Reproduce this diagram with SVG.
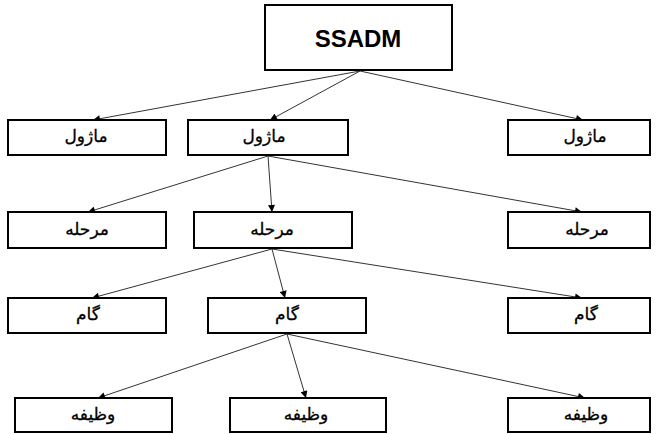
<svg xmlns="http://www.w3.org/2000/svg" width="659" height="434" viewBox="0 0 659 434">
  <style>
    .box { fill: #ffffff; stroke: #000000; stroke-width: 2; }
    .lbl { font-family: "DejaVu Sans", "Noto Sans", sans-serif; font-size: 17px; fill: #000000; stroke: #000000; stroke-width: 0.3; text-anchor: middle; dominant-baseline: central; }
    .title { font-family: "Liberation Sans", Arial, sans-serif; font-size: 24px; font-weight: bold; fill: #000000; text-anchor: middle; dominant-baseline: central; }
    .edge { stroke: #333333; stroke-width: 1; fill: none; marker-end: url(#arrow); }
  </style>
  <defs>
    <marker id="arrow" viewBox="0 0 10 10" refX="10" refY="5" markerWidth="8" markerHeight="7" markerUnits="userSpaceOnUse" orient="auto">
      <path d="M0,0 L10,5 L0,10 z" fill="#000000"/>
    </marker>
  </defs>
  <rect width="659" height="434" fill="#ffffff"/>

  <!-- connectors -->
  <g id="connectors">
    <line class="edge" x1="360" y1="71" x2="93" y2="120"/>
    <line class="edge" x1="360" y1="71" x2="270" y2="120"/>
    <line class="edge" x1="360" y1="71" x2="583" y2="120"/>
    <line class="edge" x1="268" y1="156" x2="88" y2="212"/>
    <line class="edge" x1="268" y1="156" x2="272" y2="212"/>
    <line class="edge" x1="268" y1="156" x2="582" y2="212"/>
    <line class="edge" x1="272" y1="249" x2="92" y2="298"/>
    <line class="edge" x1="272" y1="249" x2="285" y2="298"/>
    <line class="edge" x1="272" y1="249" x2="582" y2="298"/>
    <line class="edge" x1="287" y1="334" x2="98" y2="398"/>
    <line class="edge" x1="287" y1="334" x2="306" y2="398"/>
    <line class="edge" x1="287" y1="334" x2="585" y2="398"/>
  </g>

  <!-- root -->
  <g id="ssadm">
    <rect class="box" x="265" y="5" width="187" height="65"/>
    <text class="title" x="358" y="38">SSADM</text>
  </g>

  <!-- level 1: modules -->
  <g id="module-1">
    <rect class="box" x="8" y="120" width="158" height="35"/>
    <text class="lbl" x="86" y="136">ماژول</text>
  </g>
  <g id="module-2">
    <rect class="box" x="188" y="120" width="160" height="35"/>
    <text class="lbl" x="264" y="136">ماژول</text>
  </g>
  <g id="module-3">
    <rect class="box" x="508" y="120" width="142" height="35"/>
    <text class="lbl" x="585" y="136">ماژول</text>
  </g>

  <!-- level 2: stages -->
  <g id="stage-1">
    <rect class="box" x="8" y="212" width="158" height="36"/>
    <text class="lbl" x="87" y="229">مرحله</text>
  </g>
  <g id="stage-2">
    <rect class="box" x="194" y="212" width="158" height="36"/>
    <text class="lbl" x="272" y="229">مرحله</text>
  </g>
  <g id="stage-3">
    <rect class="box" x="508" y="212" width="142" height="36"/>
    <text class="lbl" x="587" y="229">مرحله</text>
  </g>

  <!-- level 3: steps -->
  <g id="step-1">
    <rect class="box" x="8" y="298" width="158" height="35"/>
    <text class="lbl" x="88" y="314">گام</text>
  </g>
  <g id="step-2">
    <rect class="box" x="208" y="298" width="158" height="35"/>
    <text class="lbl" x="287" y="314">گام</text>
  </g>
  <g id="step-3">
    <rect class="box" x="508" y="298" width="142" height="35"/>
    <text class="lbl" x="586" y="314">گام</text>
  </g>

  <!-- level 4: tasks -->
  <g id="task-1">
    <rect class="box" x="15" y="398" width="157" height="34"/>
    <text class="lbl" x="93" y="414">وظیفه</text>
  </g>
  <g id="task-2">
    <rect class="box" x="230" y="398" width="156" height="34"/>
    <text class="lbl" x="306" y="414">وظیفه</text>
  </g>
  <g id="task-3">
    <rect class="box" x="508" y="398" width="142" height="34"/>
    <text class="lbl" x="586" y="414">وظیفه</text>
  </g>
</svg>
